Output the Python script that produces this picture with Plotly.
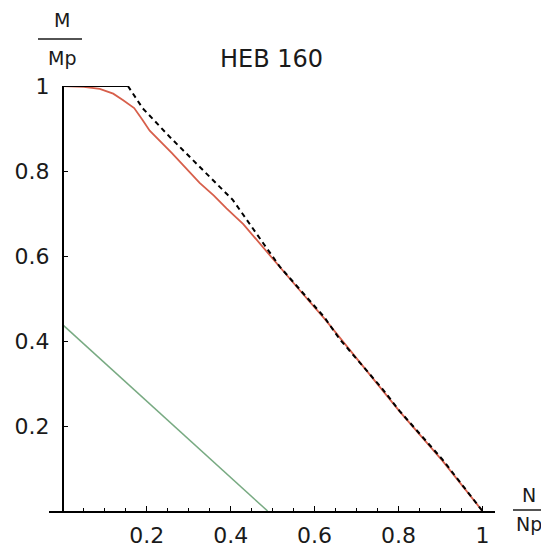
import plotly.graph_objects as go

# N/Np and M/Mp values
top_x = [0.0, 0.155]
top_y = [1.0, 1.0]

dash_x = [0.155, 0.19, 0.255, 0.326, 0.405, 0.462, 0.517, 0.624, 0.66, 0.762, 0.802, 0.905, 1.0]
dash_y = [1.0, 0.948, 0.88, 0.809, 0.732, 0.652, 0.575, 0.455, 0.404, 0.287, 0.236, 0.121, 0.0]

red_x = [0.0, 0.05, 0.088, 0.12, 0.143, 0.17, 0.19, 0.207, 0.26, 0.326, 0.36, 0.39, 0.43, 0.462, 0.517, 0.564, 0.624, 0.70, 0.762, 0.802, 0.905, 1.0]
red_y = [1.0, 0.998, 0.993, 0.982, 0.967, 0.948, 0.92, 0.895, 0.842, 0.772, 0.742, 0.712, 0.675, 0.638, 0.572, 0.52, 0.452, 0.36, 0.285, 0.235, 0.118, 0.0]

green_x = [0.0, 0.488]
green_y = [0.438, 0.0]

tick_vals = [0.2, 0.4, 0.6, 0.8, 1.0]
tick_text = ["0.2", "0.4", "0.6", "0.8", "1"]

FONT = "DejaVu Sans"
TXT = "#1a1a1a"

fig = go.Figure()
fig.add_trace(go.Scatter(x=green_x, y=green_y, mode="lines",
                         line=dict(color="rgb(120,170,130)", width=1.5), cliponaxis=False))
fig.add_trace(go.Scatter(x=red_x, y=red_y, mode="lines",
                         line=dict(color="rgb(215,95,75)", width=1.8), cliponaxis=False))
fig.add_trace(go.Scatter(x=dash_x, y=dash_y, mode="lines",
                         line=dict(color="black", width=2, dash="5px,4px"), cliponaxis=False))
fig.add_trace(go.Scatter(x=top_x, y=top_y, mode="lines",
                         line=dict(color="black", width=2), cliponaxis=False))

OFF = 8  # page body margin
W, H = 541, 542
L, T = 49 - OFF, 86 - OFF
pw, ph = 446, 425
R, B = W - L - pw, H - T - ph

def px(xp):
    return (xp - OFF - L) / pw

def py(yp):
    return (T + ph - (yp - OFF)) / ph

fig.update_layout(
    width=W, height=H,
    margin=dict(l=L, r=R, t=T, b=B, pad=0, autoexpand=False),
    paper_bgcolor="white", plot_bgcolor="white",
    showlegend=False,
    font=dict(family=FONT, color=TXT, size=22),
    xaxis=dict(range=[-0.033, 1.03], showgrid=False, zeroline=False, automargin=False,
               showline=True, linecolor="black", linewidth=2,
               tickvals=tick_vals, ticktext=tick_text,
               ticks="inside", ticklen=5, tickcolor="black", tickwidth=1,
               minor=dict(ticks="inside", ticklen=3, dtick=0.05, tickcolor="black"),
               ticklabelstandoff=4,
               tickfont=dict(family=FONT, size=22, color=TXT)),
    yaxis=dict(range=[0, 1], showgrid=False, zeroline=False, automargin=False,
               anchor="free", position=0.033 / 1.063,
               showline=True, linecolor="black", linewidth=2,
               tickvals=tick_vals, ticktext=tick_text,
               ticks="inside", ticklen=4, tickcolor="black", tickwidth=1,
               ticklabelstandoff=8,
               tickfont=dict(family=FONT, size=22, color=TXT)),
)

fig.add_annotation(text="HEB 160", x=px(271), y=py(59), xref="paper", yref="paper",
                   xanchor="center", yanchor="middle", showarrow=False,
                   font=dict(family=FONT, size=24, color=TXT))

ann = [
    dict(text="M", x=px(62), y=py(20)),
    dict(text="Mp", x=px(62), y=py(58)),
    dict(text="N", x=px(529), y=py(495)),
    dict(text="Np", x=px(529), y=py(524)),
]
for a in ann:
    fig.add_annotation(text=a["text"], x=a["x"], y=a["y"], xref="paper", yref="paper",
                       xanchor="center", yanchor="middle", showarrow=False,
                       font=dict(family=FONT, size=19, color=TXT))

fig.add_shape(type="line", xref="paper", yref="paper",
              x0=px(38), x1=px(82), y0=py(39), y1=py(39), line=dict(color=TXT, width=1.5))
fig.add_shape(type="line", xref="paper", yref="paper",
              x0=px(513), x1=px(545), y0=py(510), y1=py(510), line=dict(color=TXT, width=1.5))

fig.write_html("out.html")
